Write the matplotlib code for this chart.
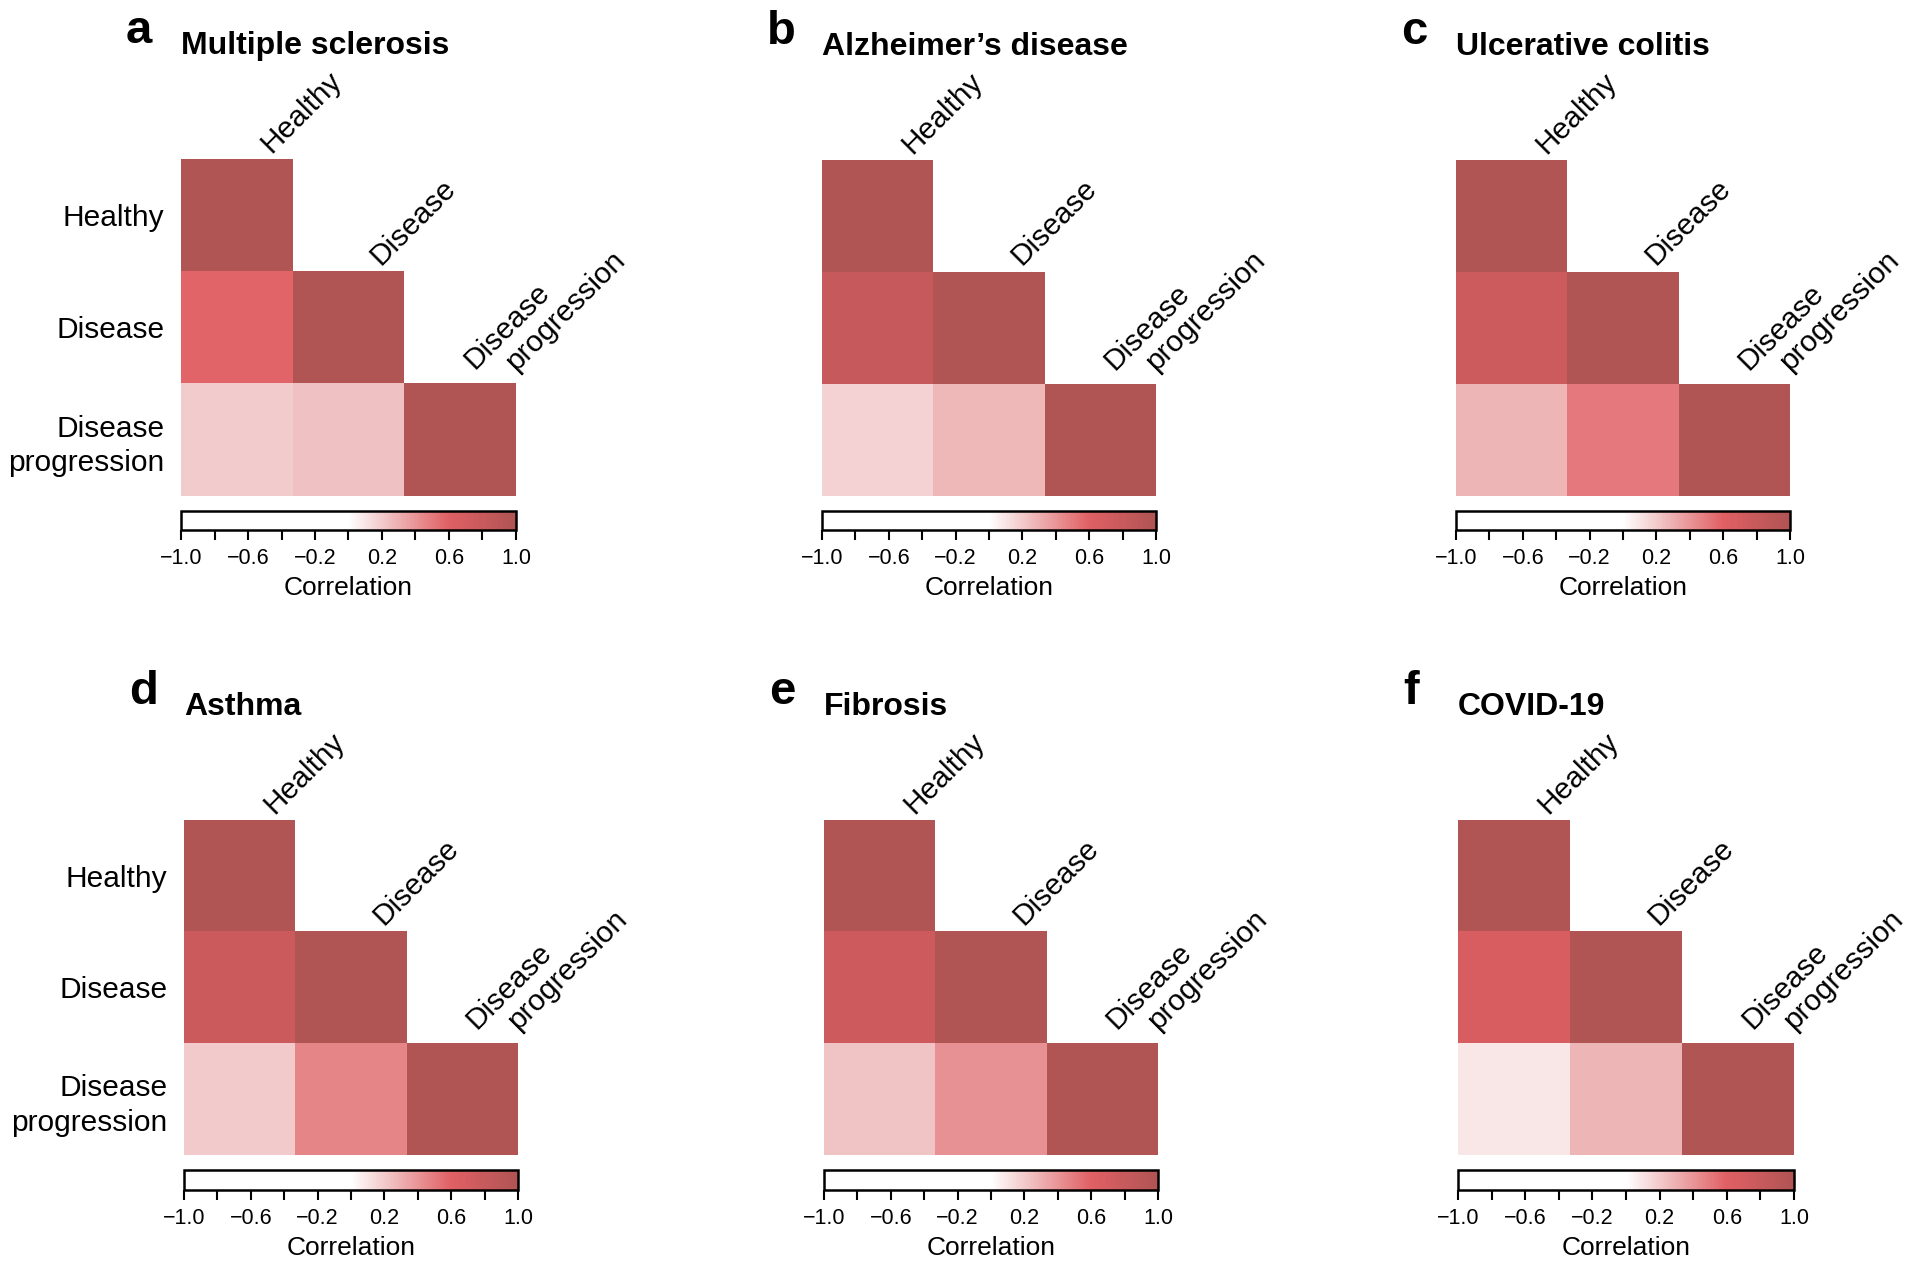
import numpy as np
import matplotlib
matplotlib.use('Agg')
import matplotlib.pyplot as plt
from matplotlib.colors import LinearSegmentedColormap

plt.rcParams['font.family'] = ['Liberation Sans', 'DejaVu Sans']

# data: lower triangle of correlation matrices (Healthy, Disease, Disease progression)
letters = ['a', 'b', 'c', 'd', 'e', 'f']
titles = ['Multiple sclerosis', 'Alzheimer\u2019s disease', 'Ulcerative colitis',
          'Asthma', 'Fibrosis', 'COVID-19']
labels = ['Healthy', 'Disease', 'Disease\nprogression']
dis_vs_healthy = [0.58, 0.82, 0.76, 0.77, 0.75, 0.67]
prog_vs_healthy = [0.19, 0.17, 0.28, 0.20, 0.22, 0.09]
prog_vs_disease = [0.23, 0.27, 0.50, 0.46, 0.41, 0.28]

cmap = LinearSegmentedColormap.from_list(
    'corr', [(0.0, '#ffffff'), (0.5, '#ffffff'), (0.6, '#f2cacb'),
             (0.8, '#e06064'), (1.0, '#b05454')])

W, H = 1920, 1269
fig = plt.figure(figsize=(W / 100, H / 100), dpi=100)

# pixel boxes of the heatmaps: (left, right, top, bottom)
boxes = [(181, 516, 159, 496), (822, 1156, 160, 496), (1456, 1790, 160, 496),
         (184, 518, 820, 1155), (824, 1158, 820, 1155), (1458, 1794, 820, 1155)]

def fr(l, r, t, b):
    return [l / W, 1 - b / H, (r - l) / W, (b - t) / H]

fs = 21.5
for k in range(6):
    l, r, t, b = boxes[k]
    m = np.array([[1.0, np.nan, np.nan],
                  [dis_vs_healthy[k], 1.0, np.nan],
                  [prog_vs_healthy[k], prog_vs_disease[k], 1.0]])
    ax = fig.add_axes(fr(l, r, t, b))
    im = ax.imshow(np.ma.masked_invalid(m), cmap=cmap, vmin=-1, vmax=1,
                   extent=(0, 3, 3, 0), aspect='auto', interpolation='nearest')
    ax.set_xlim(0, 3)
    ax.set_ylim(3, 0)
    for s in ax.spines.values():
        s.set_visible(False)
    ax.set_xticks([])
    if k % 3 == 0:
        ax.set_yticks([0.5, 1.5, 2.5])
        ax.set_yticklabels(labels, fontsize=fs, linespacing=1.3)
        ax.tick_params(axis='y', length=0, pad=12)
    else:
        ax.set_yticks([])
    # diagonal labels
    kw = dict(rotation=45, rotation_mode='anchor', ha='left', va='baseline',
              fontsize=fs)
    ax.text(0.81, -0.05, 'Healthy', **kw)
    ax.text(1.79, 0.95, 'Disease', **kw)
    ax.text(2.63, 1.88, 'Disease', **kw)
    ax.text(3.00, 1.89, 'progression', **kw)

    # colorbar
    cb_t, cb_b = (511, 530) if k < 3 else (1170, 1190)
    cax = fig.add_axes(fr(l, r, cb_t, cb_b))
    cb = fig.colorbar(im, cax=cax, orientation='horizontal')
    cb.set_ticks(np.arange(-1, 1.01, 0.4))
    cb.set_ticklabels(['\u22121.0', '\u22120.6', '\u22120.2', '0.2', '0.6', '1.0'])
    cb.ax.set_xticks(np.arange(-1, 1.01, 0.2), minor=True)
    cb.ax.tick_params(which='both', direction='out', length=7, width=1.5,
                      labelsize=15.5, pad=6)
    cb.outline.set_linewidth(1.8)
    cb.set_label('Correlation', fontsize=19, labelpad=5)

    # panel letter and title
    fig.text((l - 55) / W, 1 - (t - 116) / H, letters[k], fontsize=34,
             fontweight='bold', ha='left', va='baseline')
    fig.text(l / W, 1 - (t - 105) / H, titles[k], fontsize=23, fontweight='bold',
             ha='left', va='baseline')

fig.savefig('out.png', dpi=100, facecolor='white')
